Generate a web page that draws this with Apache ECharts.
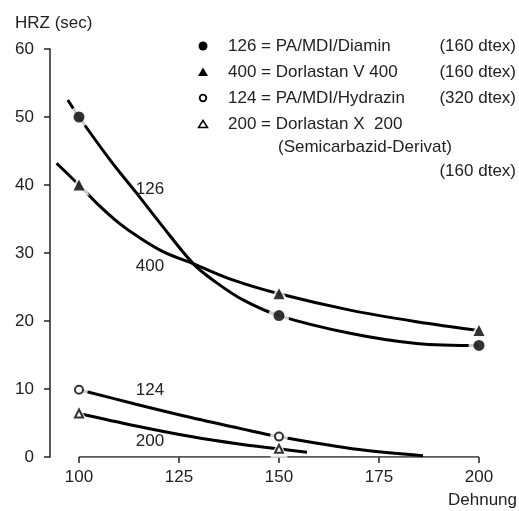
<!DOCTYPE html>
<html>
<head>
<meta charset="utf-8">
<script src="https://cdn.jsdelivr.net/npm/echarts@6/dist/echarts.min.js"></script>
<style>
html, body { margin: 0; padding: 0; background: #fff; }
#chart { width: 519px; height: 511px; }
</style>
</head>
<body>
<div id="chart"></div>
<script>
// Axis ranges and ticks
const xRange = [92.75, 200];
const xTicks = [100, 125, 150, 175, 200];
const yRange = [0, 60];
const yStep = 10;
// Baseline of the Dehnung axis (runs only across the tick range)
const xBase = [[100, 0], [200, 0]];

// Measured HRZ (sec) against Dehnung
const pts126 = [[100, 50], [150, 20.8], [200, 16.4]];
const pts400 = [[100, 40], [150, 24.0], [200, 18.6]];
const pts124 = [[100, 9.9], [150, 3.0]];
const pts200 = [[100, 6.4], [150, 1.2]];

// Fitted curves through the measurements
const curve126 = [[97.2, 52.5], [100, 50], [107.75, 43.7], [114.4, 38.8], [120.25, 34.4], [128.6, 28.4], [134, 25.8], [141, 23.1], [150, 20.8], [167.75, 18.2], [184.4, 16.7], [200, 16.4]];
const curve400 = [[94.4, 43.2], [100, 40], [105, 37], [110, 34.4], [115, 32.3], [121, 30.2], [128.6, 28.4], [138.6, 26.0], [150, 24.0], [167.75, 21.6], [184.4, 19.9], [200, 18.6]];
const curve124 = [[100, 9.9], [114, 7.8], [128, 5.8], [141, 4.1], [150, 3.0], [170, 1.1], [186, 0.2]];
const curve200 = [[100, 6.4], [114, 4.6], [128, 3.0], [140, 1.9], [150, 1.2], [157, 0.7]];

// Curve names and where they are written (data coordinates)
const curveNames = ['126', '400', '124', '200'];
const nameSpots = [[117.75, 39.3], [117.75, 28.1], [117.75, 9.75], [117.75, 2.25]];

// Legend lines
const legendLines = [
  '126 = PA/MDI/Diamin',
  '400 = Dorlastan V 400',
  '124 = PA/MDI/Hydrazin',
  '200 = Dorlastan X  200',
  '(Semicarbazid-Derivat)'
];
const legendTex = ['(160 dtex)', '(160 dtex)', '(320 dtex)', '(160 dtex)'];

const FONT = '"Liberation Sans", Arial, sans-serif';
const INK = '#222';

function curve(name, data, spot) {
  return {
    type: 'line', name, data, smooth: 0.35, showSymbol: false, symbol: 'none',
    clip: false, silent: true, z: 2,
    lineStyle: { color: '#000', width: 3 },
    markPoint: {
      symbol: 'circle', symbolSize: 0, silent: true,
      label: { show: true, formatter: name, color: INK, fontSize: 17, fontFamily: FONT },
      data: [{ coord: spot }]
    }
  };
}
// white ring that opens a small gap in the curve around each marker
function halo(data, symbol, size) {
  return { type: 'scatter', data, symbol, symbolSize: size + 10, silent: true, z: 3,
    itemStyle: { color: '#fff' } };
}
function marker(data, symbol, size, filled) {
  return { type: 'scatter', data, symbol, symbolSize: size, silent: true, z: 4,
    itemStyle: filled ? { color: '#000' } : { color: '#fff', borderColor: '#000', borderWidth: 2 } };
}

const txt = (text, x, y, align) => ({
  type: 'text', silent: true,
  style: { text, x, y, fill: INK, font: '17px ' + FONT,
    align: align || 'left', verticalAlign: 'middle',
    textAlign: align || 'left', textVerticalAlign: 'middle' }
});

const legendY = [46, 72, 98, 124, 147];
const graphics = [
  txt('HRZ (sec)', 15, 23),
  txt('Dehnung', 517, 500, 'right'),
  { type: 'circle', silent: true, shape: { cx: 203, cy: legendY[0], r: 4.5 }, style: { fill: '#000' } },
  { type: 'polygon', silent: true, shape: { points: [[198, 76], [208, 76], [203, 67.5]] }, style: { fill: '#000' } },
  { type: 'circle', silent: true, shape: { cx: 203, cy: legendY[2], r: 3.3 }, style: { fill: '#fff', stroke: '#000', lineWidth: 1.8 } },
  { type: 'polygon', silent: true, shape: { points: [[198.5, 127.5], [207.5, 127.5], [203, 120.5]] }, style: { fill: '#fff', stroke: '#000', lineWidth: 1.5 } }
];
legendLines.forEach((t, i) => graphics.push(txt(t, i === 4 ? 278 : 228, legendY[i])));
[46, 72, 98, 171].forEach((y, i) => graphics.push(txt(legendTex[i], 516, y, 'right')));

const chart = echarts.init(document.getElementById('chart'), null, { renderer: 'canvas' });
chart.setOption({
  animation: false,
  backgroundColor: '#fff',
  grid: { left: 50, right: 40, top: 49, bottom: 54 },
  xAxis: {
    type: 'value', min: xRange[0], max: xRange[1],
    axisLine: { show: false },
    axisTick: { show: true, customValues: xTicks, length: 6, lineStyle: { color: INK, width: 1.5 } },
    axisLabel: { customValues: xTicks, margin: 12, color: INK, fontSize: 17, fontFamily: FONT },
    splitLine: { show: false }
  },
  yAxis: {
    type: 'value', min: yRange[0], max: yRange[1], interval: yStep,
    axisLine: { show: true, lineStyle: { color: INK, width: 1.5 } },
    axisTick: { show: true, length: 6, lineStyle: { color: INK, width: 1.5 } },
    axisLabel: { margin: 16, color: INK, fontSize: 17, fontFamily: FONT },
    splitLine: { show: false }
  },
  graphic: graphics,
  series: [
    { type: 'line', data: xBase, symbol: 'none', silent: true, z: 1,
      lineStyle: { color: INK, width: 1.5 } },
    curve(curveNames[0], curve126, nameSpots[0]),
    curve(curveNames[1], curve400, nameSpots[1]),
    curve(curveNames[2], curve124, nameSpots[2]),
    curve(curveNames[3], curve200, nameSpots[3]),
    halo(pts126, 'circle', 11),
    halo(pts400, 'triangle', 11),
    halo(pts124, 'circle', 8),
    halo(pts200, 'triangle', 8),
    marker(pts126, 'circle', 11, true),
    marker(pts400, 'triangle', 11, true),
    marker(pts124, 'circle', 8, false),
    marker(pts200, 'triangle', 8, false)
  ]
});
</script>
</body>
</html>
